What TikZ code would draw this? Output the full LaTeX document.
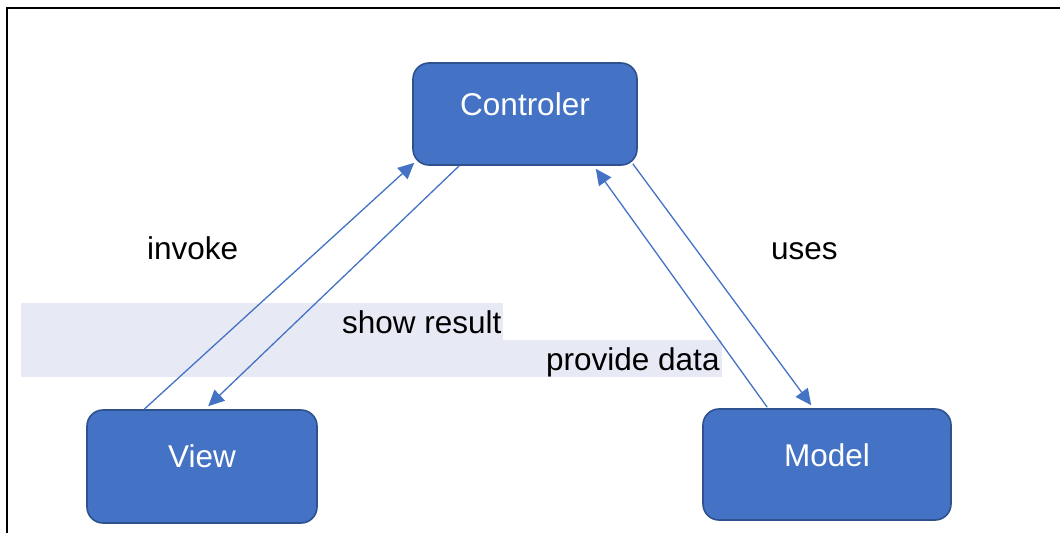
\documentclass[tikz,border=0pt]{standalone}
\usepackage{fontspec}
\setmainfont{Liberation Sans}
\usetikzlibrary{arrows.meta,calc}
\definecolor{boxfill}{HTML}{4472C4}
\definecolor{boxline}{HTML}{2F528F}
\definecolor{bandcol}{HTML}{E7E9F5}
\begin{document}
\begin{tikzpicture}[x=1pt,y=-1pt,
  box/.style={rounded corners=16pt, fill=boxfill, draw=boxline, line width=1.6pt, inner sep=0pt},
  boxtext/.style={anchor=base, inner sep=0pt, text=white, font=\fontsize{31.5}{36}\selectfont},
  lbl/.style={anchor=base west, inner sep=0pt, text=black, font=\fontsize{31.5}{36}\selectfont},
  arr/.style={draw=boxfill, line width=1.3pt, -{Triangle[length=16pt,width=15pt]}}]
\useasboundingbox (0,0) rectangle (1060,533);
\fill[white] (0,0) rectangle (1060,533);
% frame
\draw[line width=2pt] (6.8,533) -- (6.8,7.5) -- (1060,7.5);
% label bands
\fill[bandcol] (21,303) rectangle (503,340);
\fill[bandcol] (21,340) rectangle (722,377);
% boxes
\node[box, minimum width=224pt, minimum height=102pt] (ctrl) at (525,114) {};
\node[box, minimum width=230pt, minimum height=113pt] (view) at (202,466.5) {};
\node[box, minimum width=248pt, minimum height=111pt] (model) at (827,464.5) {};
\node[boxtext] (ctrlt) at (525,115) {Controler};
\node[boxtext] (viewt) at (202,467) {View};
\node[boxtext] (modelt) at (827,466) {Model};
% connectors
\draw[arr] ([xshift=58pt]view.north west) -- ([xshift=2pt,yshift=3pt]ctrl.south west);
\draw[arr] ([xshift=47pt]ctrl.south west) -- ([xshift=122pt,yshift=3pt]view.north west);
\draw[arr] ([xshift=-5pt,yshift=2pt]ctrl.south east) -- ([xshift=109pt,yshift=3pt]model.north west);
\draw[arr] ([xshift=65pt,yshift=1pt]model.north west) -- ([xshift=-42pt,yshift=-3pt]ctrl.south east);
% labels
\node[lbl] (linvoke) at (147,259) {invoke};
\node[lbl] (luses) at (771,259) {uses};
\node[lbl] (lshow) at (342,333) {show result};
\node[lbl] (lprov) at (546,370) {provide data};
\end{tikzpicture}
\end{document}
